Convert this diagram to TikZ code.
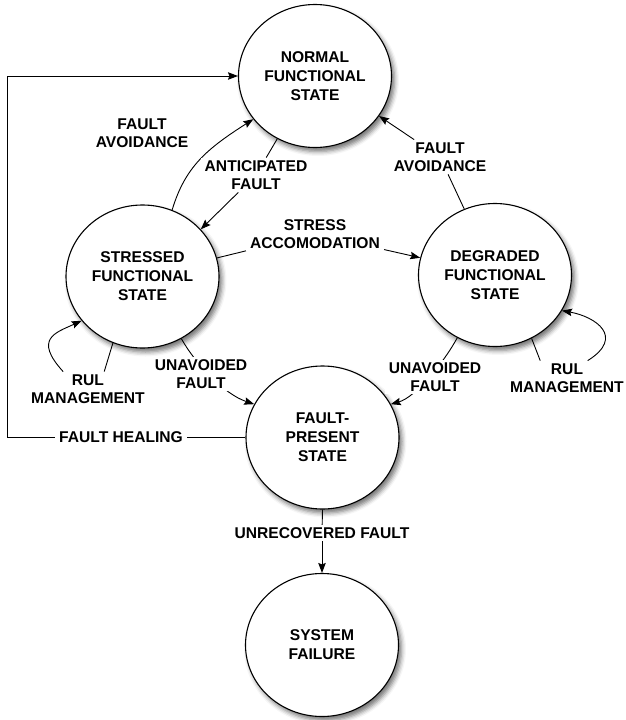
\documentclass[tikz,border=0pt]{standalone}
\usepackage{fontspec}
\setmainfont{Liberation Sans}
\usetikzlibrary{shapes.geometric,arrows.meta,shadows.blur}
\newcommand{\statefont}{\bfseries\fontsize{15.6pt}{19pt}\selectfont}
\newcommand{\tagfont}{\bfseries\fontsize{15.6pt}{18.5pt}\selectfont}
\begin{document}
\begin{tikzpicture}[x=1pt,y=-1pt,
  state/.style={ellipse, draw, line width=1.1pt, fill=white,
    minimum width=153pt, minimum height=143pt, inner sep=0pt,
    align=center, font=\statefont,
    blur shadow={shadow xshift=3pt, shadow yshift=-4pt,
      shadow blur radius=4.5pt, shadow opacity=55}},
  tag/.style={fill=white, align=center, inner xsep=4pt, inner ysep=2.5pt, font=\tagfont},
  link/.style={line width=0.9pt},
  arr/.style={link, -{Stealth[length=10pt,width=7.5pt,inset=1.5pt]}}
]
\useasboundingbox (0,0) rectangle (625,720);

% states
\node[state] (N) at (315,76) {NORMAL\\FUNCTIONAL\\STATE};
\node[state] (S) at (142.5,276.5) {STRESSED\\FUNCTIONAL\\STATE};
\node[state] (D) at (495,275) {DEGRADED\\FUNCTIONAL\\STATE};
\node[state] (F) at (322.5,437.5) {FAULT-\\PRESENT\\STATE};
\node[state] (X) at (322,645) {SYSTEM\\FAILURE};

% transitions that run beneath their labels
\draw[arr] (S.66.7) .. controls +(13,-43) and +(-47,30) .. (N.215.5);
\draw[arr] (S.302.3) .. controls +(14,25) and +(-30,-10) .. (F.154.3);
\draw[arr] (D.239.3) .. controls +(-13,24) and +(25,-7) .. (F.26.1);

% transition labels
\node[tag] (labFA1) at (142,133) {FAULT\\AVOIDANCE};
\node[tag] (labAF) at (256,175) {ANTICIPATED\\FAULT};
\node[tag] (labSA) at (315,234) {STRESS\\ACCOMODATION};
\node[tag] (labFA2) at (440,157) {FAULT\\AVOIDANCE};
\node[tag] (labU1) at (201,374) {UNAVOIDED\\FAULT};
\node[tag] (labU2) at (435,377) {UNAVOIDED\\FAULT};
\node[tag] (labR1) at (88,389) {RUL\\MANAGEMENT};
\node[tag] (labR2) at (567,378) {RUL\\MANAGEMENT};
\node[tag] (labFH) at (121,437.5) {FAULT HEALING};
\node[tag] (labUF) at (322,533) {UNRECOVERED FAULT};

% transitions broken by their labels
\draw[link] (N.239.7) -- (labAF);
\draw[arr] (labAF) -- (S.39.8);
\draw[link] (S.14.7) -- (labSA);
\draw[arr] (labSA) -- (D.167.5);
\draw[link] (D.115.5) -- (labFA2);
\draw[arr] (labFA2) -- (N.328.3);

% remaining-useful-life loops
\draw[link] (S.246.1) -- (labR1.47);
\draw[arr] (labR1.145) .. controls +(-30,-33) and +(-26,12) .. (S.216.6);
\draw[link] (D.300.3) -- (labR2.147);
\draw[arr] (labR2.40) .. controls +(38,-24) and +(33,6) .. (D.332.8);

% fault healing back to normal operation
\coordinate (cBL) at (7,437.5);
\coordinate (cTL) at (7,76);
\draw[link] (F.west) -- (labFH);
\draw[arr] (labFH) -- (cBL) -- (cTL) -- (N.west);

% unrecovered fault
\draw[link] (F.south) -- (labUF);
\draw[arr] (labUF) -- (X.north);
\end{tikzpicture}
\end{document}
